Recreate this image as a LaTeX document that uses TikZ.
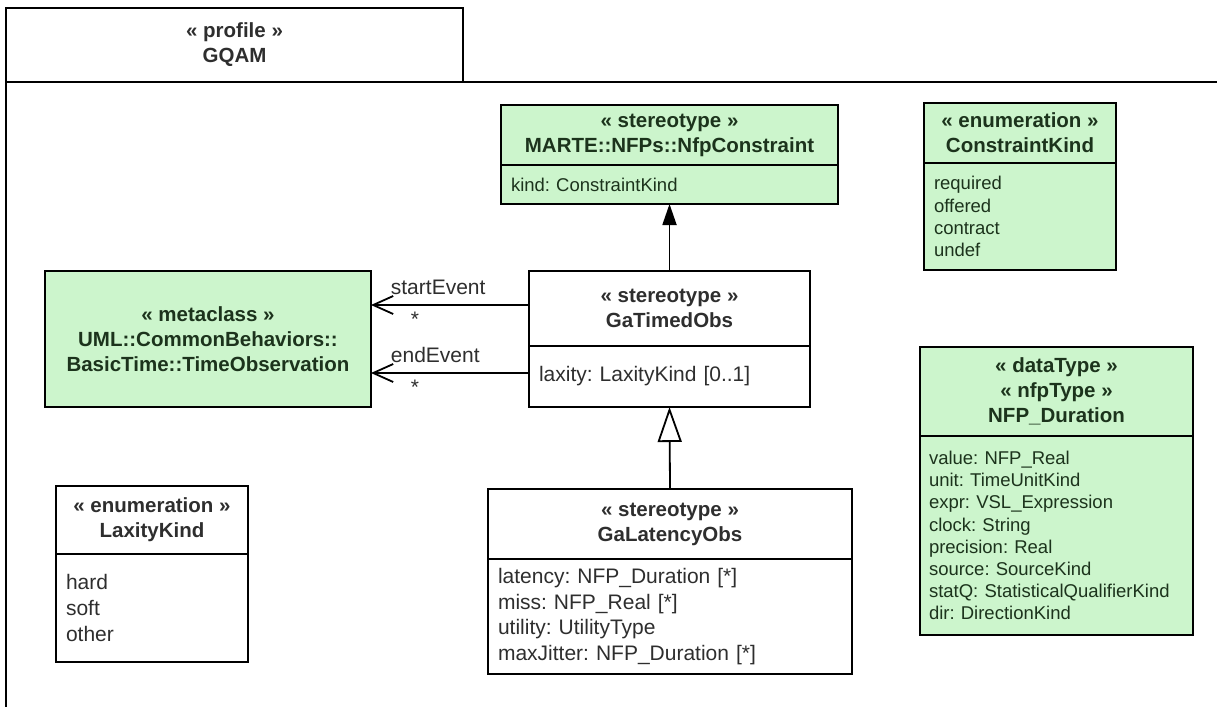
\documentclass[tikz,border=0pt]{standalone}
\usepackage{fontspec}
\setmainfont{Liberation Sans}
\usetikzlibrary{arrows.meta, positioning}
\definecolor{umlgreen}{HTML}{CCF5CC}
\definecolor{textgray}{HTML}{2E2E2E}
\definecolor{textgreen}{HTML}{1C331C}
\frenchspacing
\newcommand\headfont{\fontsize{20.5}{25}\selectfont\bfseries}
\newcommand\attrfont{\fontsize{21}{25.6}\selectfont}
\newcommand\smallattrfont{\fontsize{18.5}{22.2}\selectfont}
\tikzset{
    classhead/.style={
        rectangle,
        draw=black,
        line width=1.8pt,
        anchor=north west,
        inner sep=0pt,
        outer sep=0pt,
        align=center,
        font=\headfont,
        text=textgray
    },
    classattr/.style={
        rectangle,
        draw=black,
        line width=1.8pt,
        inner xsep=10pt,
        inner ysep=0pt,
        outer sep=0pt,
        align=left,
        font=\attrfont,
        text=textgray
    },
    stereo/.style={fill=umlgreen, text=textgreen},
    greenattr/.style={classattr, stereo, font=\smallattrfont},
    rolelabel/.style={inner sep=0pt, font=\attrfont, text=textgray},
    assoc/.style={line width=1.8pt, -{Straight Barb[length=20pt, width=18pt]}},
    gen/.style={line width=1.8pt, -{Triangle[open, length=35pt, width=24pt, fill=white]}},
    ext/.style={line width=1.8pt, -{Triangle[length=21pt, width=14pt]}}
}

\begin{document}
\begin{tikzpicture}[x=1pt, y=-1pt]
\useasboundingbox (0,0) rectangle (1217,707);

% profile frame
\node (profile) [classhead, minimum width=457pt, minimum height=74pt] at (6,8) {« profile »\\GQAM};
\draw [line width=1.8pt] (profile.south east) -- (1217,82);
\draw [line width=1.8pt] (profile.south west) -- (6,707);

% classes
\node (constraint) [classhead, stereo, minimum width=337pt, minimum height=60pt] at (501,105) {« stereotype »\\MARTE::NFPs::NfpConstraint};
\node (constraintattr) [greenattr, text width=317pt, minimum height=39pt, below=0pt of constraint] {kind: ConstraintKind};

\node (ckind) [classhead, stereo, minimum width=192pt, minimum height=60pt] at (924,103) {« enumeration »\\ConstraintKind};
\node (ckindattr) [greenattr, text width=172pt, minimum height=107pt, below=0pt of ckind] {required\\offered\\contract\\undef};

\node (timeobs) [classhead, stereo, minimum width=326pt, minimum height=136pt] at (45,271) {« metaclass »\\UML::CommonBehaviors::\\BasicTime::TimeObservation};

\node (timed) [classhead, minimum width=281pt, minimum height=75pt] at (529,271) {« stereotype »\\GaTimedObs};
\node (timedattr) [classattr, text width=261pt, minimum height=61pt, below=0pt of timed] {laxity: LaxityKind [0..1]};

\node (latency) [classhead, minimum width=364pt, minimum height=70pt] at (488,489) {« stereotype »\\GaLatencyObs};
\node (latencyattr) [classattr, text width=344pt, minimum height=115pt, below=0pt of latency] {latency: NFP\_Duration [*]\\miss: NFP\_Real [*]\\utility: UtilityType\\maxJitter: NFP\_Duration [*]};

\node (laxkind) [classhead, minimum width=192pt, minimum height=68pt] at (56,486) {« enumeration »\\LaxityKind};
\node (laxkindattr) [classattr, text width=172pt, minimum height=108pt, below=0pt of laxkind] {hard\\soft\\other};

\node (duration) [classhead, stereo, minimum width=273pt, minimum height=89pt] at (920,347) {« dataType »\\« nfpType »\\NFP\_Duration};
\node (durationattr) [greenattr, inner xsep=9pt, text width=255pt, minimum height=199pt, below=0pt of duration] {value: NFP\_Real\\unit: TimeUnitKind\\expr: VSL\_Expression\\clock: String\\precision: Real\\source: SourceKind\\statQ: StatisticalQualifierKind\\dir: DirectionKind};

% connectors
\coordinate (startend) at ([yshift=3.5pt]timed.west);
\coordinate (endend) at ([yshift=3.5pt]timedattr.west);
\draw [assoc] (startend) -- (startend -| timeobs.east)
    node [at end, rolelabel, anchor=south west, xshift=19pt, yshift=9pt] {startEvent}
    node [at end, rolelabel, xshift=44pt, yshift=-14pt] {*};
\draw [assoc] (endend) -- (endend -| timeobs.east)
    node [at end, rolelabel, anchor=south west, xshift=19pt, yshift=9pt] {endEvent}
    node [at end, rolelabel, xshift=44pt, yshift=-14pt] {*};
\draw [ext] (timed.north) -- (constraintattr.south);
\draw [gen] (latency.north) -- (timedattr.south);

\end{tikzpicture}
\end{document}
